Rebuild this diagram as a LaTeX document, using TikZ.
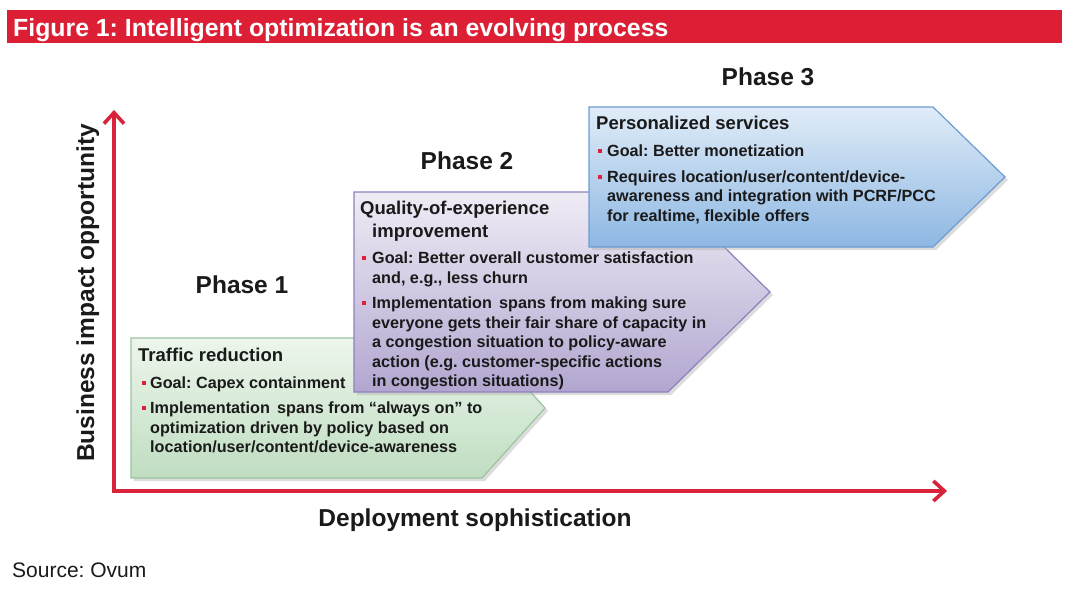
\documentclass[tikz,border=0pt]{standalone}
\usepackage{fontspec}
\setmainfont{Liberation Sans}
\usetikzlibrary{arrows.meta}
\frenchspacing
\definecolor{titlered}{HTML}{DC1F35}
\definecolor{axisred}{HTML}{D9233A}
\definecolor{bulred}{HTML}{E0203A}
\definecolor{txt}{HTML}{1A1A1A}
\definecolor{gtop}{HTML}{EDF6EC}
\definecolor{gbot}{HTML}{BFDDC1}
\definecolor{gbrd}{HTML}{9DC49F}
\definecolor{ptop}{HTML}{F0ECF5}
\definecolor{pbot}{HTML}{B2A6D0}
\definecolor{pbrd}{HTML}{8E80BE}
\definecolor{btop}{HTML}{E0ECF8}
\definecolor{bbot}{HTML}{8DB7E2}
\definecolor{bbrd}{HTML}{6C9CD2}
\tikzset{
  head/.style={anchor=base west, inner sep=0pt, text=txt, font=\fontsize{18.5}{20}\selectfont\bfseries},
  line/.style={anchor=base west, inner sep=0pt, text=txt, font=\fontsize{16.2}{18}\selectfont\bfseries},
  phase/.style={anchor=base, inner sep=0pt, text=txt, font=\fontsize{24.5}{26}\selectfont\bfseries},
  axlabel/.style={anchor=base, inner sep=0pt, text=txt, font=\fontsize{24.5}{26}\selectfont\bfseries},
  axis/.style={draw=axisred, line width=3.5pt, -{Straight Barb[length=11pt,width=20pt]}},
  axshadow/.style={draw=black!25, line width=3.5pt, -{Straight Barb[length=11pt,width=20pt]}},
  boxshadow/.style={fill=black!30, opacity=0.45},
}
\newcommand\bul[2]{\fill[bulred] (#1,#2) rectangle ++(4.4,4.4);}
\begin{document}
\begin{tikzpicture}[x=1pt,y=1pt]
\useasboundingbox (0,0) rectangle (1074,-592);
% title bar
\fill[titlered] (7,-10) rectangle (1062,-43);
\node[anchor=base west, inner sep=0pt, text=white] (title) at (13,-36)
  {\resizebox{655pt}{!}{\bfseries Figure 1: Intelligent optimization is an evolving process}};

% axes
\coordinate (o) at (114,-491);
\coordinate (ytip) at (114,-110);
\coordinate (xtip) at (947,-491);
\draw[axshadow, shift={(1.5,-1.8)}] (o) -- (ytip);
\draw[axshadow, shift={(1.5,-1.8)}] (o) -- (xtip);
\draw[axis, line cap=rect] (o) -- (ytip);
\draw[axis, line cap=rect] (o) -- (xtip);

\node[axlabel, rotate=90] (ylab) at (94,-293) {Business impact opportunity};
\node[axlabel] (xlab) at (475,-526) {Deployment sophistication};
\node[anchor=base west, inner sep=0pt, text=txt, font=\fontsize{21}{23}\selectfont] (src) at (12,-577) {Source: Ovum};

% phases
\node[phase] (ph1) at (242,-293) {Phase 1};
\node[phase] (ph2) at (467,-169) {Phase 2};
\node[phase] (ph3) at (768,-85) {Phase 3};

% green box
\fill[boxshadow] (134,-341) -- (485,-341) -- (548,-411) -- (485,-481) -- (134,-481) -- cycle;
\draw[gbrd, line width=1.2pt, top color=gtop, bottom color=gbot]
  (131,-338) -- (482,-338) -- (545,-408) -- (482,-478) -- (131,-478) -- cycle;
\node[head] (g0) at (138,-361.5) {Traffic reduction};
\bul{142}{-385}
\node[line] (g1) at (150,-388) {Goal: Capex containment};
\bul{142}{-410}
\node[line] (g2) at (150,-413) {Implementation\ \,spans from “always on” to};
\node[line] (g3) at (150,-433) {optimization driven by policy based on};
\node[line] (g4) at (150,-452) {location/user/content/device-awareness};

% purple box
\fill[boxshadow] (357,-195) -- (671,-195) -- (773,-295) -- (671,-395) -- (357,-395) -- cycle;
\draw[pbrd, line width=1.2pt, top color=ptop, bottom color=pbot]
  (354,-192) -- (668,-192) -- (770,-292) -- (668,-392) -- (354,-392) -- cycle;
\node[head] (p0) at (360,-214) {Quality-of-experience};
\node[head] (p0b) at (372,-237) {improvement};
\bul{362}{-260}
\node[line] (p1) at (372,-263) {Goal: Better overall customer satisfaction};
\node[line] (p2) at (372,-283) {and, e.g., less churn};
\bul{362}{-305}
\node[line] (p3) at (372,-308) {Implementation\ \,spans from making sure};
\node[line] (p4) at (372,-328) {everyone gets their fair share of capacity in};
\node[line] (p5) at (372,-347) {a congestion situation to policy-aware};
\node[line] (p6) at (372,-367) {action (e.g. customer-specific actions};
\node[line] (p7) at (372,-386) {in congestion situations)};

% blue box
\fill[boxshadow] (592,-110) -- (936,-110) -- (1008,-180) -- (936,-250) -- (592,-250) -- cycle;
\draw[bbrd, line width=1.2pt, top color=btop, bottom color=bbot]
  (589,-107) -- (933,-107) -- (1005,-177) -- (933,-247) -- (589,-247) -- cycle;
\node[head] (b0) at (596,-129) {Personalized services};
\bul{598}{-153}
\node[line] (b1) at (607,-156) {Goal: Better monetization};
\bul{598}{-179}
\node[line] (b2) at (607,-182) {Requires location/user/content/device-};
\node[line] (b3) at (607,-201) {awareness and integration with PCRF/PCC};
\node[line] (b4) at (607,-221) {for realtime, flexible offers};
\end{tikzpicture}
\end{document}
